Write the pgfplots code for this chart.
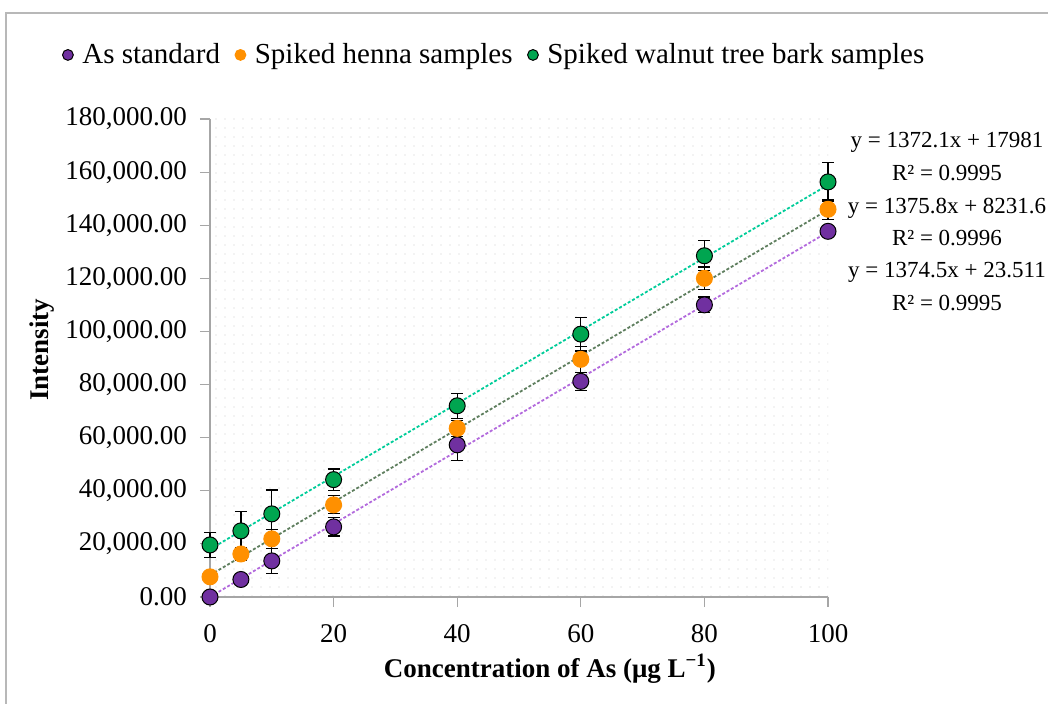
\documentclass[border=0pt]{standalone}
\usepackage{fontspec}
\setmainfont{Liberation Serif}
\usepackage{pgfplots}
\pgfplotsset{compat=1.18}
\usetikzlibrary{patterns.meta}

\definecolor{stdpurple}{HTML}{7030A0}
\definecolor{hennaorange}{HTML}{FF9000}
\definecolor{barkgreen}{HTML}{00A550}
\definecolor{trgreen}{HTML}{00CC99}
\definecolor{trolive}{HTML}{5E7E5E}
\definecolor{trpurple}{HTML}{B36BDD}
\definecolor{axgray}{HTML}{A6A6A6}

\newcommand\fs{\fontsize{13.5}{16}\selectfont}

\begin{document}
\begin{tikzpicture}
\useasboundingbox (0pt,0pt) rectangle (524pt,-352pt);
\draw[axgray!80, line width=0.8pt] (3pt,-352pt) -- (3pt,-6.5pt) -- (524pt,-6.5pt);
\begin{axis}[
  at={(105pt,-298.5pt)}, anchor=south west,
  scale only axis, width=309pt, height=239pt,
  xmin=0, xmax=100, ymin=0, ymax=180000,
  clip=false,
  axis lines*=left,
  axis line style={axgray, line width=0.8pt},
  tick style={axgray, line width=0.6pt},
  tick align=outside, major tick length=5pt,
  xtick={0,20,40,60,80,100},
  ytick={0,20000,...,180000},
  scaled y ticks=false,
  yticklabel style={xshift=-3pt, /pgf/number format/.cd, fixed, fixed zerofill, precision=2, 1000 sep={,}},
  xticklabel style={yshift=-5pt},
  /pgf/number format/assume math mode=true,
  ticklabel style={font=\fs},
  xlabel={\bfseries Concentration of As (μg L\textsuperscript{−1})},
  ylabel={\bfseries Intensity},
  label style={font=\fs},
  xlabel style={at={(axis description cs:0.55,-0.15)}, anchor=center},
  ylabel style={at={(axis description cs:-0.272,0.517)}, anchor=center},
  axis background/.style={pattern={Dots[distance=4.5pt, radius=0.3pt]}, pattern color=black!20},
  legend style={at={(axis description cs:-0.249,1.134)}, anchor=west, draw=none, fill=none,
    font=\fontsize{14.5}{17}\selectfont, legend columns=3,
    /tikz/every even column/.append style={column sep=5.5pt}},
  legend cell align=left,
  legend image code/.code={\draw[#1, mark size=2.7pt] plot[only marks] coordinates {(0pt,0pt)};
    \path (5pt,0pt);},
  error bars/y dir=both, error bars/y explicit,
  error bars/error bar style={black, line width=0.6pt},
  error bars/error mark options={black, line width=0.6pt, mark size=3pt, rotate=90},
]
% trendlines
\addplot[trpurple, dash pattern=on 1.5pt off 1pt, line width=0.9pt, forget plot, no marks]
  coordinates {(0,23.511) (100,137473.5)};
\addplot[trolive, dash pattern=on 1.5pt off 1pt, line width=0.9pt, forget plot, no marks]
  coordinates {(0,8231.6) (100,145811.6)};
\addplot[trgreen, dash pattern=on 1.5pt off 1pt, line width=0.9pt, forget plot, no marks]
  coordinates {(0,17981) (100,155191)};
% As standard
\addplot[only marks, mark=*, mark size=4pt, mark options={fill=stdpurple, draw=black, line width=0.5pt}]
  coordinates {(0,0) +- (0,500) (5,6600) +- (0,1000) (10,13600) +- (0,4700) (20,26400) +- (0,3400)
    (40,57300) +- (0,6000) (60,81200) +- (0,3400) (80,110000) +- (0,3000) (100,137700) +- (0,1500)};
\addlegendentry{As standard}
% Spiked henna samples
\addplot[only marks, mark=*, mark size=4pt, mark options={fill=hennaorange, draw=hennaorange, line width=0.5pt}]
  coordinates {(0,7600) +- (0,1000) (5,16200) +- (0,2500) (10,21900) +- (0,3500) (20,34700) +- (0,3400)
    (40,63500) +- (0,3000) (60,89500) +- (0,4900) (80,120000) +- (0,4300) (100,146000) +- (0,3800)};
\addlegendentry{Spiked henna samples}
% Spiked walnut tree bark samples
\addplot[only marks, mark=*, mark size=4pt, mark options={fill=barkgreen, draw=black, line width=0.5pt}]
  coordinates {(0,19600) +- (0,4700) (5,24900) +- (0,7200) (10,31300) +- (0,9000) (20,44200) +- (0,4000)
    (40,72000) +- (0,4700) (60,99000) +- (0,6400) (80,128500) +- (0,5700) (100,156300) +- (0,7200)};
\addlegendentry{Spiked walnut tree bark samples}
\end{axis}
\begin{scope}[font=\fontsize{11.5}{14}\selectfont, inner sep=0pt]
\node at (473.5pt,-71pt) {y = 1372.1x + 17981};
\node at (473.5pt,-86.5pt) {R² = 0.9995};
\node at (473.5pt,-104pt) {y = 1375.8x + 8231.6};
\node at (473.5pt,-119pt) {R² = 0.9996};
\node at (473.5pt,-136pt) {y = 1374.5x + 23.511};
\node at (473.5pt,-151.5pt) {R² = 0.9995};
\end{scope}
\end{tikzpicture}
\end{document}
